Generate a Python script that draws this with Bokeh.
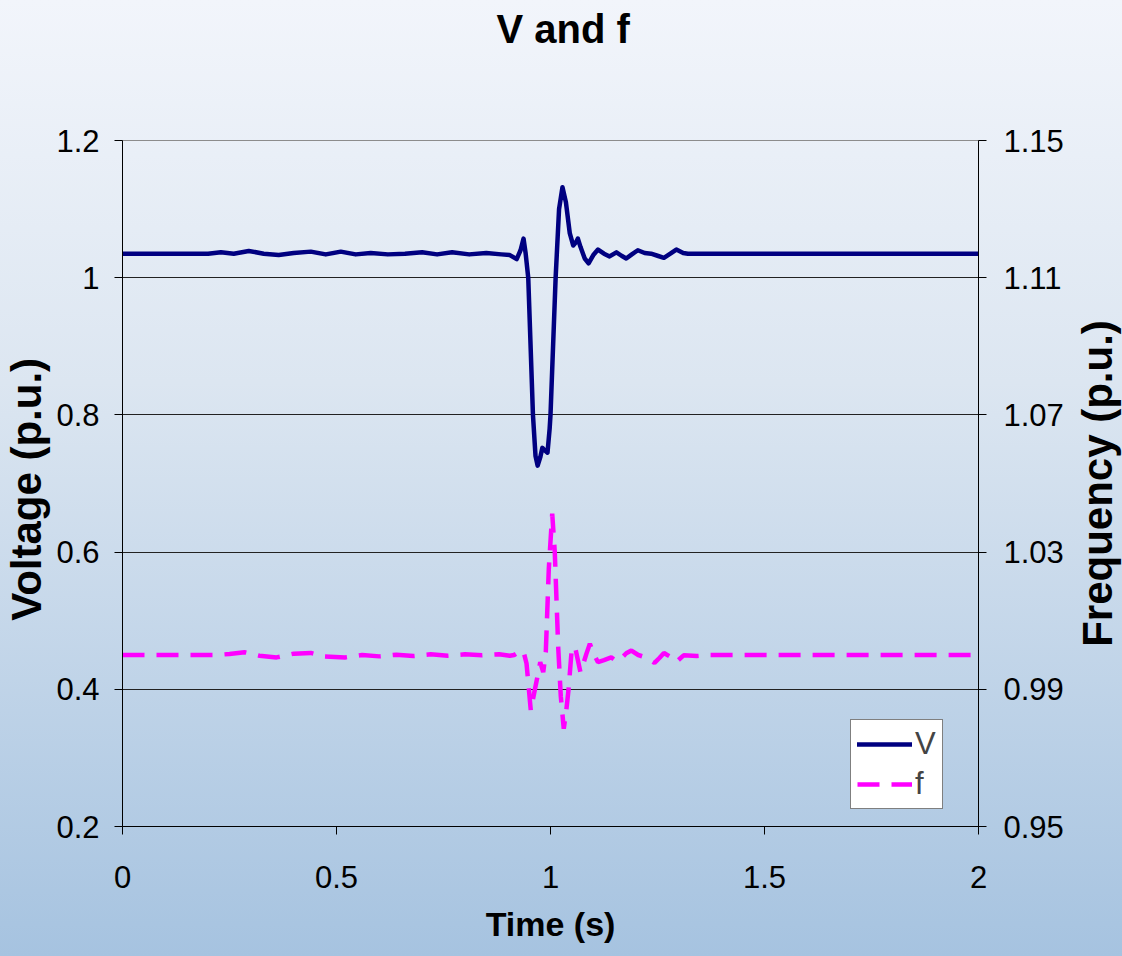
import math
from bokeh.plotting import figure
from bokeh.layouts import row
from bokeh.models import Range1d, LinearAxis, FixedTicker, Legend, LegendItem, Title
from bokeh.embed import file_html
from bokeh.resources import INLINE

# ---- data ----
t_v = [0.0, 0.20, 0.23, 0.26, 0.295, 0.33, 0.365, 0.40, 0.44, 0.475, 0.51, 0.545,
       0.58, 0.62, 0.66, 0.70, 0.735, 0.77, 0.81, 0.85, 0.885, 0.905, 0.921, 0.930,
       0.937, 0.942, 0.948, 0.959, 0.965, 0.970, 0.976, 0.981, 0.987, 0.993, 0.998,
       1.000, 1.012, 1.020, 1.028, 1.036, 1.045, 1.053, 1.060, 1.064, 1.070, 1.080,
       1.089, 1.100, 1.111, 1.125, 1.138, 1.154, 1.166, 1.177, 1.190, 1.204, 1.220,
       1.235, 1.250, 1.265, 1.280, 1.294, 1.310, 1.321, 1.40, 2.0]
voltage = [1.035, 1.035, 1.037, 1.035, 1.039, 1.035, 1.033, 1.036, 1.038, 1.034, 1.038, 1.034,
           1.036, 1.034, 1.035, 1.037, 1.034, 1.037, 1.034, 1.036, 1.034, 1.033, 1.027, 1.040,
           1.057, 1.035, 1.000, 0.800, 0.740, 0.726, 0.738, 0.752, 0.748, 0.745, 0.780,
           0.800, 1.000, 1.100, 1.132, 1.110, 1.065, 1.047, 1.052, 1.057, 1.045, 1.028,
           1.021, 1.033, 1.041, 1.035, 1.031, 1.037, 1.032, 1.028, 1.034, 1.040, 1.036,
           1.035, 1.032, 1.029, 1.035, 1.041, 1.036, 1.035, 1.035, 1.035]

t_f = [0.0, 0.22, 0.25, 0.285, 0.32, 0.36, 0.40, 0.44, 0.47, 0.52, 0.56, 0.60, 0.64,
       0.68, 0.72, 0.76, 0.80, 0.84, 0.88, 0.905, 0.915, 0.925, 0.932, 0.938, 0.944,
       0.954, 0.962, 0.970, 0.976, 0.983, 0.989, 0.996, 1.004, 1.010, 1.018, 1.024,
       1.031, 1.037, 1.042, 1.050, 1.058, 1.070, 1.078, 1.084, 1.092, 1.100, 1.111,
       1.125, 1.142, 1.154, 1.165, 1.177, 1.189, 1.205, 1.220, 1.232, 1.243, 1.255,
       1.265, 1.280, 1.294, 1.311, 1.342, 1.37, 2.0]
freq = [1.0, 1.0, 1.0003, 1.0008, 0.9998, 0.9993, 1.0004, 1.0006, 0.9996, 0.9993, 1.0000,
        0.9996, 1.0001, 0.9997, 1.0002, 0.9998, 1.0002, 0.9999, 1.0002, 0.9998, 1.0000,
        1.0008, 1.0014, 1.0005, 0.9975, 0.9838, 0.9890, 0.9940, 0.9979, 0.9950, 1.0008,
        1.0250, 1.0412, 1.0300, 1.0023, 0.9880, 0.9785, 0.9840, 0.9897, 1.0023, 1.0020,
        0.9950, 0.9980, 1.0004, 1.0033, 1.0005, 0.9979, 0.9985, 0.9993, 0.9982, 0.9990,
        1.0005, 1.0013, 1.0000, 0.9994, 0.9985, 0.9977, 0.9992, 1.0006, 0.9995, 0.9980,
        0.9999, 0.9997, 1.0, 1.0]

x_ticks = [0, 0.5, 1, 1.5, 2]
x_tick_labels = ["0", "0.5", "1", "1.5", "2"]
v_ticks = [0.2, 0.4, 0.6, 0.8, 1.0, 1.2]
v_tick_labels = ["0.2", "0.4", "0.6", "0.8", "1", "1.2"]
f_ticks = [0.95, 0.99, 1.03, 1.07, 1.11, 1.15]
f_tick_labels = ["0.95", "0.99", "1.03", "1.07", "1.11", "1.15"]

FONT = "Liberation Sans"
BG = {"background": "linear-gradient(to bottom, #F2F5FB 0%, #DCE6F1 40%, #A6C3E0 100%)"}

p = figure(width=1070, height=956, x_range=Range1d(0, 2), y_range=Range1d(0.2, 1.2),
           output_backend="svg", toolbar_location=None, title=None,
           min_border_left=120, min_border_right=92, min_border_top=140,
           min_border_bottom=130)
p.extra_y_ranges = {"f": Range1d(0.95, 1.15)}
p.background_fill_color = None
p.border_fill_color = None
p.styles = BG
p.outline_line_color = "#8c8c8c"

# spacer title (closest to the frame) pushes the real title to the top
p.add_layout(Title(text=" ", text_font=FONT, text_font_size="40px", standoff=44), "above")
p.add_layout(Title(text="V and f", text_font=FONT, text_font_size="40px",
                   text_font_style="bold", text_color="black", align="left",
                   offset=374, standoff=0), "above")

def style_axis(ax, ticks, labels, name):
    ax.ticker = FixedTicker(ticks=ticks)
    ax.major_label_overrides = {float(t): l for t, l in zip(ticks, labels)}
    if name:
        ax.axis_label = name
    ax.axis_line_color = "black"
    ax.major_tick_line_color = "black"
    ax.major_tick_out = 8
    ax.major_tick_in = 0
    ax.minor_tick_line_color = None
    ax.major_label_text_font = FONT
    ax.major_label_text_font_size = "31px"
    ax.major_label_text_color = "black"
    ax.axis_label_text_color = "black"
    ax.axis_label_text_font_style = "bold"
    ax.axis_label_text_font = FONT

style_axis(p.xaxis[0], x_ticks, x_tick_labels, "Time (s)")
p.xaxis[0].axis_label_text_font_size = "34px"
p.xaxis[0].major_label_standoff = 31
p.xaxis[0].axis_label_standoff = 14

style_axis(p.yaxis[0], v_ticks, v_tick_labels, "Voltage  (p.u.)")
p.yaxis[0].axis_label_text_font_size = "42px"
p.yaxis[0].major_label_standoff = 15
p.yaxis[0].axis_label_standoff = 3

raxis = LinearAxis(y_range_name="f")
style_axis(raxis, f_ticks, f_tick_labels, None)
raxis.major_label_standoff = 17
p.add_layout(raxis, "right")

p.xgrid.grid_line_color = None
p.ygrid.ticker = FixedTicker(ticks=[0.4, 0.6, 0.8, 1.0])
p.ygrid.grid_line_color = "#222222"
p.ygrid.grid_line_width = 1

rv = p.line(t_v, voltage, line_color="#000080", line_width=4.5,
            line_join="round", line_cap="round")
rf = p.line(t_f, freq, y_range_name="f", line_color="#FF00FF", line_width=4.5,
            line_dash="22 12")

legend = Legend(items=[LegendItem(label="V", renderers=[rv]),
                       LegendItem(label="f", renderers=[rf])],
                location=(728, 17))
legend.border_line_color = "black"
legend.border_line_width = 1
legend.background_fill_color = "white"
legend.background_fill_alpha = 1.0
legend.label_text_font = FONT
legend.label_text_font_size = "31px"
legend.glyph_width = 55
legend.glyph_height = 30
legend.label_height = 30
legend.label_standoff = 3
legend.padding = 6
legend.spacing = 4
legend.margin = 0
p.add_layout(legend)

# narrow side panel carrying the right-hand title, reading bottom-to-top
side = figure(width=52, height=956, x_range=Range1d(0, 1), y_range=Range1d(0.95, 1.15),
              output_backend="svg", toolbar_location=None, title=None,
              x_axis_location=None, min_border_left=48, min_border_right=0,
              min_border_top=140, min_border_bottom=130)
side.background_fill_color = None
side.border_fill_color = None
side.outline_line_color = None
side.styles = BG
side.grid.grid_line_color = None
sax = side.yaxis[0]
sax.ticker = FixedTicker(ticks=[])
sax.axis_line_color = None
sax.major_tick_line_color = None
sax.minor_tick_line_color = None
sax.major_tick_out = 0
sax.major_label_standoff = 0
sax.axis_label = "Frequency (p.u.)"
sax.axis_label_standoff = 2
sax.axis_label_text_font = FONT
sax.axis_label_text_font_size = "42px"
sax.axis_label_text_font_style = "bold"
sax.axis_label_text_color = "black"

layout = row(p, side, spacing=0)
open("out.html", "w").write(file_html(layout, INLINE))
